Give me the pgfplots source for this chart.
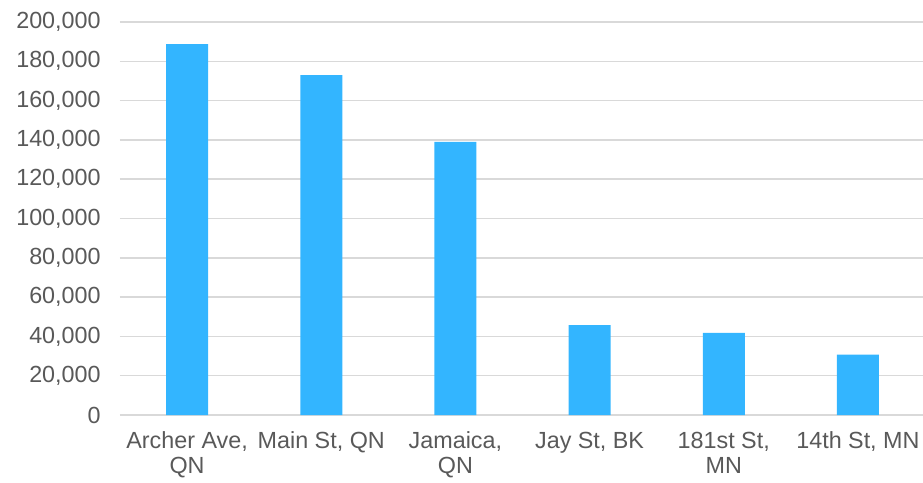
\documentclass[border=0pt]{standalone}
\usepackage{fontspec}
\setmainfont{Liberation Sans}
\usepackage{pgfplots}
\pgfplotsset{compat=1.18}
\definecolor{barblue}{HTML}{33B5FF}
\definecolor{ticktext}{HTML}{595959}
\definecolor{gridgray}{HTML}{D9D9D9}
\begin{document}
\begin{tikzpicture}
	\begin{axis}[
		name=ax,
		scale only axis,
		width=603.75pt,
		height=294.75pt,
		ybar,
		bar width=31.5pt,
		xmin=-0.5, xmax=5.5,
		ymin=0, ymax=200000,
		ytick={0,20000,...,200000},
		xtick=data,
		xticklabels={
			{Archer Ave,\\QN},
			{Main St, QN},
			{Jamaica,\\QN},
			{Jay St, BK},
			{181st St,\\MN},
			{14th St, MN}
		},
		xticklabel style={align=center, anchor=north, font=\fontsize{17.5}{19}\selectfont, text=ticktext},
		yticklabel style={font=\fontsize{17.5}{19}\selectfont, text=ticktext},
		scaled y ticks=false,
		/pgf/number format/.cd, fixed, 1000 sep={,}, assume math mode=true,
		/pgfplots/.cd,
		axis line style={draw=none},
		tick style={draw=none},
		ymajorgrids,
		grid style={gridgray, line width=1.1pt},
		major tick length=0pt,
		yticklabel shift=11pt,
		xticklabel shift=9pt,
	]
	\addplot[fill=barblue, draw=none] coordinates {
		(0,188800)
		(1,173000)
		(2,139000)
		(3,45800)
		(4,41800)
		(5,30700)
	};
	\end{axis}
	\pgfresetboundingbox
	\path[use as bounding box] ([shift={(-90pt,-50.25pt)}]ax.south west) rectangle ([shift={(-1.5pt,16.5pt)}]ax.north east);
\end{tikzpicture}
\end{document}
